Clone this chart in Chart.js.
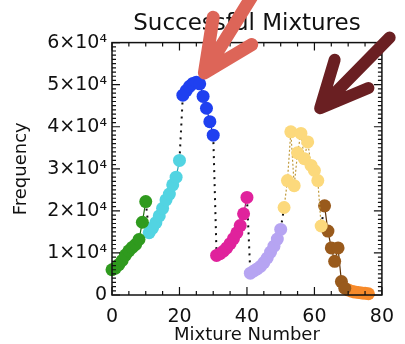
<!DOCTYPE html>
<html>
<head>
  <meta charset="UTF-8">
  <title>Successful Mixtures</title>
  <script src="https://cdn.jsdelivr.net/npm/chart.js"></script>
  <style>
    body {
      margin: 0;
      background: #fff;
    }
    #wrap {
      width: 405px;
      height: 344px;
    }
  </style>
</head>
<body>
  <div id="wrap">
    <canvas id="mixChart" width="405" height="344"></canvas>
  </div>

  <script>
    // mixture number / frequency per colour group
    const greenMix = [0, 1, 2, 3, 4, 5, 6, 7, 8, 9, 10];
    const greenFreq = [6000, 6400, 7200, 8200, 9500, 10500, 11300, 12000, 13200, 17300, 22200];

    const cyanMix = [11, 12, 13, 14, 15, 16, 17, 18, 19, 20];
    const cyanFreq = [14800, 15900, 17200, 18800, 20600, 22600, 24000, 26200, 28000, 32000];

    const blueMix = [21, 22, 23, 24, 25, 26, 27, 28, 29, 30];
    const blueFreq = [47500, 48600, 49600, 50300, 50600, 50200, 47200, 44400, 41200, 38000];

    const magentaMix = [31, 32, 33, 34, 35, 36, 37, 38, 39, 40];
    const magentaFreq = [9400, 9800, 10400, 11200, 12200, 13400, 14800, 16500, 19300, 23200];

    const lavenderMix = [41, 42, 43, 44, 45, 46, 47, 48, 49, 50];
    const lavenderFreq = [5200, 5700, 6200, 6800, 7700, 8800, 10200, 11600, 13300, 15600];

    const yellowMix = [51, 52, 53, 54, 55, 56, 57, 58, 59, 60, 61, 62];
    const yellowFreq = [20800, 27200, 38800, 26000, 33800, 38400, 32400, 36400, 30800, 29600, 27200, 16400];

    const brownMix = [63, 64, 65, 66, 67, 68, 69];
    const brownFreq = [21200, 15200, 11200, 8000, 11200, 3200, 1600];

    const orangeMix = [70, 71, 72, 73, 74, 75, 76];
    const orangeFreq = [1200, 900, 700, 600, 500, 400, 300];

    const xTicks = [0, 20, 40, 60, 80];
    const yTicks = [0, 10000, 20000, 30000, 40000, 50000, 60000];

    const groups = [
      { mix: greenMix, freq: greenFreq, fill: '#2f9a1e', line: '#1f6e12', dash: [] },
      { mix: cyanMix, freq: cyanFreq, fill: '#52d4e2', line: '#2aa8b8', dash: [] },
      { mix: blueMix, freq: blueFreq, fill: '#1f40f0', line: '#1530b0', dash: [] },
      { mix: magentaMix, freq: magentaFreq, fill: '#e0229c', line: '#b01478', dash: [] },
      { mix: lavenderMix, freq: lavenderFreq, fill: '#b6a4f2', line: '#8d7ad8', dash: [] },
      { mix: yellowMix, freq: yellowFreq, fill: '#fcd97c', line: '#c09a3c', dash: [2, 2] },
      { mix: brownMix, freq: brownFreq, fill: '#995a1c', line: '#5e3208', dash: [] },
      { mix: orangeMix, freq: orangeFreq, fill: '#f78a2a', line: '#c86410', dash: [] }
    ];

    const toPoints = (xs, ys) => xs.map((x, i) => ({ x, y: ys[i] }));

    const datasets = groups.map(g => ({
      data: toPoints(g.mix, g.freq),
      borderColor: g.line,
      borderWidth: 1.2,
      borderDash: g.dash,
      backgroundColor: g.fill,
      pointBackgroundColor: g.fill,
      pointBorderWidth: 0,
      pointRadius: 6.5,
      pointHoverRadius: 6.5,
      tension: 0,
      clip: false,
      order: 1
    }));

    // black dotted jumps from the end of one group to the start of the next
    for (let i = 0; i < groups.length - 1; i++) {
      const a = groups[i], b = groups[i + 1];
      datasets.push({
        data: [
          { x: a.mix[a.mix.length - 1], y: a.freq[a.freq.length - 1] },
          { x: b.mix[0], y: b.freq[0] }
        ],
        borderColor: '#111',
        borderWidth: 2,
        borderDash: [2, 5],
        pointRadius: 0,
        clip: false,
        order: 5
      });
    }

    // annotation arrows, in data units: shaft start, tip, two head ends
    const arrows = [
      { color: '#dd6558', width: 13, start: [41.7, 71280], tip: [27.4, 52800], w1: [30, 66000], w2: [41.4, 59520] },
      { color: '#6a1f22', width: 12, start: [82.3, 61200], tip: [61.7, 44400], w1: [66, 55920], w2: [76, 49200] }
    ];

    const boxTicks = {
      id: 'boxTicks',
      afterDatasetsDraw(chart) {
        const { ctx, chartArea: a, scales: { x, y } } = chart;
        ctx.save();
        ctx.strokeStyle = '#111';
        ctx.lineWidth = 1.5;
        ctx.strokeRect(a.left, a.top, a.right - a.left, a.bottom - a.top);
        ctx.lineWidth = 1.2;
        ctx.beginPath();
        for (let v = 0; v <= 80; v += 5) {
          const px = x.getPixelForValue(v);
          const len = v % 20 === 0 ? 8 : 4;
          ctx.moveTo(px, a.bottom); ctx.lineTo(px, a.bottom - len);
          ctx.moveTo(px, a.top); ctx.lineTo(px, a.top + len);
        }
        for (let v = 0; v <= 60000; v += 1000) {
          const py = y.getPixelForValue(v);
          const len = v % 10000 === 0 ? 8 : 4;
          ctx.moveTo(a.left, py); ctx.lineTo(a.left + len, py);
          ctx.moveTo(a.right, py); ctx.lineTo(a.right - len, py);
        }
        ctx.stroke();
        ctx.restore();
      },
      afterDraw(chart) {
        const { ctx, scales: { x, y } } = chart;
        const p = d => [x.getPixelForValue(d[0]), y.getPixelForValue(d[1])];
        ctx.save();
        ctx.lineCap = 'round';
        ctx.lineJoin = 'round';
        arrows.forEach(ar => {
          const s = p(ar.start), t = p(ar.tip), a1 = p(ar.w1), a2 = p(ar.w2);
          ctx.strokeStyle = ar.color;
          ctx.lineWidth = ar.width;
          ctx.beginPath();
          ctx.moveTo(s[0], s[1]); ctx.lineTo(t[0], t[1]);
          ctx.moveTo(a1[0], a1[1]); ctx.lineTo(t[0], t[1]); ctx.lineTo(a2[0], a2[1]);
          ctx.stroke();
        });
        ctx.restore();
      }
    };

    const font = 'DejaVu Sans';

    new Chart(document.getElementById('mixChart'), {
      type: 'line',
      data: { datasets },
      plugins: [boxTicks],
      options: {
        responsive: false,
        animation: false,
        devicePixelRatio: 1,
        layout: { padding: { left: 0, right: 12, top: 0, bottom: 0 } },
        plugins: {
          legend: { display: false },
          tooltip: { enabled: false },
          title: {
            display: true,
            text: 'Successful Mixtures',
            fullSize: false,
            color: '#111',
            font: { family: font, size: 23, weight: 'normal' },
            padding: { top: 10, bottom: 5 }
          }
        },
        scales: {
          x: {
            type: 'linear',
            min: 0,
            max: 80,
            afterFit: s => { s.height = 49; },
            afterBuildTicks: s => { s.ticks = xTicks.map(v => ({ value: v })); },
            grid: { display: false, drawTicks: false },
            border: { display: false },
            ticks: { color: '#111', padding: 11, maxRotation: 0, font: { family: font, size: 19 } },
            title: {
              display: true,
              text: 'Mixture Number',
              color: '#111',
              padding: 0,
              font: { family: font, size: 18, lineHeight: 1 }
            }
          },
          y: {
            min: 0,
            max: 60000,
            afterFit: s => { s.width = 112; },
            afterBuildTicks: s => { s.ticks = yTicks.map(v => ({ value: v })); },
            grid: { display: false, drawTicks: false },
            border: { display: false },
            ticks: {
              color: '#111',
              padding: 5,
              font: { family: font, size: 19 },
              callback: v => v === 0 ? '0' : (v / 10000) + '×10⁴'
            },
            title: {
              display: true,
              text: 'Frequency',
              color: '#111',
              padding: { top: 12, bottom: 0 },
              font: { family: font, size: 18, lineHeight: 1 }
            }
          }
        }
      }
    });
  </script>
</body>
</html>
